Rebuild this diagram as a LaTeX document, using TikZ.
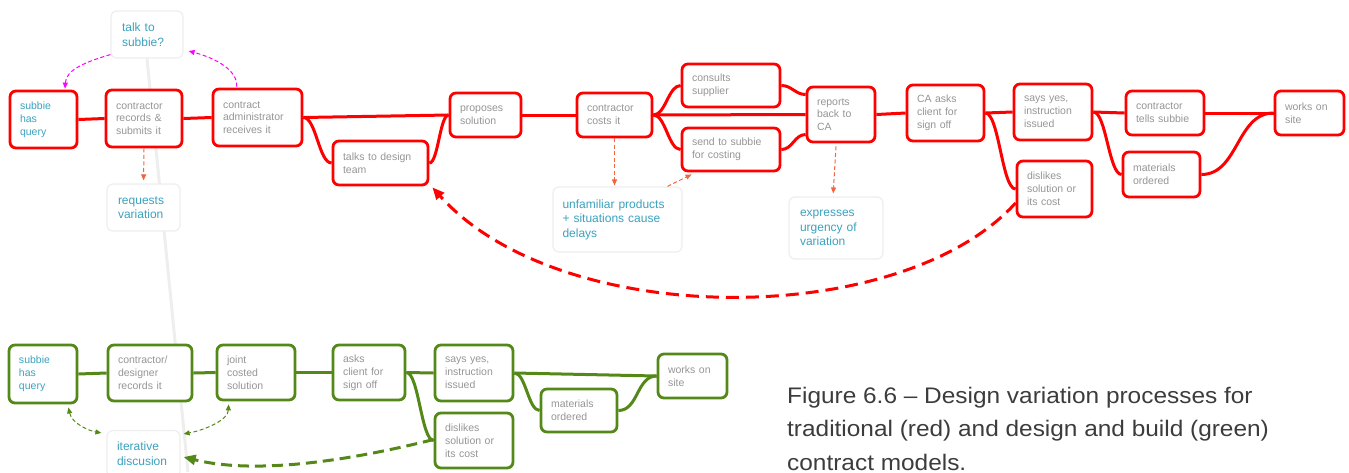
\documentclass[tikz,border=0pt]{standalone}
\usepackage{fontspec}
\setmainfont{Liberation Sans}
\newfontfamily\capfont[FakeStretch=1.085]{Liberation Sans}
\usetikzlibrary{arrows.meta,calc,backgrounds}
\definecolor{rd}{RGB}{255,0,0}
\definecolor{gr}{RGB}{84,136,24}
\definecolor{tl}{RGB}{60,162,190}
\definecolor{tx}{RGB}{150,150,150}
\definecolor{og}{RGB}{242,100,60}
\definecolor{mg}{RGB}{255,0,255}
\definecolor{capc}{RGB}{60,60,60}
\definecolor{faint}{RGB}{238,238,238}
\tikzset{
  box/.style={rounded corners=6pt, line width=2.8pt, fill=white, inner xsep=10pt, inner ysep=3pt,
    align=left, text=tx, font=\fontsize{10.5}{12.8}\selectfont},
  rbox/.style={box, draw=rd},
  gbox/.style={box, draw=gr},
  note/.style={rounded corners=6pt, draw=faint, line width=1.2pt, fill=white, inner xsep=11pt,
    align=left, text=tl, font=\fontsize{12}{14.6}\selectfont},
  rl/.style={draw=rd, line width=3pt},
  gl/.style={draw=gr, line width=3pt},
  sc/.style={to path={.. controls ($(\tikztostart)!0.45!(\tikztostart -| \tikztotarget)$) and ($(\tikztotarget)!0.45!(\tikztotarget -| \tikztostart)$) .. (\tikztotarget)}},
  thin/.style={line width=1pt, dash pattern=on 4pt off 2.5pt},
  ol/.style={thin, draw=og, -{Triangle[length=6pt,width=5pt]}},
  ml/.style={thin, draw=mg, -{Triangle[length=6pt,width=5pt]}},
  gdl/.style={thin, draw=gr, {Triangle[length=6pt,width=5pt]}-{Triangle[length=6pt,width=5pt]}},
  bigtip/.style={-{Triangle[length=12pt,width=10pt]}}
}
\begin{document}
\begin{tikzpicture}[x=1pt,y=-1pt]
\useasboundingbox (0,0) rectangle (1349,472);
% notes
\node[note, text width=50pt, minimum height=47pt] (n1) at (147,34.5) {talk to\\subbie?};
\node[note, text width=51pt, minimum height=47pt] (n2) at (143.5,207.5) {requests\\variation};
\node[note, inner xsep=9.5pt, text width=110pt, minimum height=65pt] (n3) at (617.5,219.5) {unfamiliar products\\+ situations cause\\delays};
\node[note, text width=72pt, minimum height=62pt] (n4) at (836,228) {expresses\\urgency of\\variation};
\node[note, inner xsep=10pt, text width=53pt, minimum height=47pt] (n5) at (143.5,454) {iterative\\discusion};
% red boxes
\node[rbox, text=tl, text width=47pt, minimum height=57pt] (r1) at (43.5,119.5) {subbie\\has\\query};
\node[rbox, text width=56pt, minimum height=57pt] (r2) at (144,118.5) {contractor\\records \&\\submits it};
\node[rbox, text width=69pt, minimum height=57pt] (r3) at (257.5,117.5) {contract\\administrator\\receives it};
\node[rbox, text width=75pt, minimum height=44pt] (r4) at (380.5,163) {talks to design\\team};
\node[rbox, text width=51pt, minimum height=44pt] (r5) at (485.5,115) {proposes\\solution};
\node[rbox, text width=55pt, minimum height=44pt] (r6) at (614.5,115) {contractor\\costs it};
\node[rbox, text width=78pt, minimum height=43pt] (r7) at (731,85.5) {consults\\supplier};
\node[rbox, text width=78pt, minimum height=43pt] (r8) at (731,149.5) {send to subbie\\for costing};
\node[rbox, text width=48pt, minimum height=55pt] (r9) at (841,114.5) {reports\\back to\\CA};
\node[rbox, text width=57pt, minimum height=56pt] (r10) at (945.5,113) {CA asks\\client for\\sign off};
\node[rbox, text width=58pt, minimum height=56pt] (r11) at (1053,112) {says yes,\\instruction\\issued};
\node[rbox, text width=58pt, minimum height=44pt] (r12) at (1165,113) {contractor\\tells subbie};
\node[rbox, text width=55pt, minimum height=56pt] (r13) at (1054.5,189) {dislikes\\solution or\\its cost};
\node[rbox, text width=57pt, minimum height=45pt] (r14) at (1161.5,174.5) {materials\\ordered};
\node[rbox, text width=49pt, minimum height=44pt] (r15) at (1309.5,113) {works on\\site};
% green boxes
\node[gbox, text=tl, text width=48pt, minimum height=58pt] (g1) at (43,374) {subbie\\has\\query};
\node[gbox, text width=64pt, minimum height=56pt] (g2) at (150,373) {contractor/\\designer\\records it};
\node[gbox, text width=58pt, minimum height=55pt] (g3) at (256,372.5) {joint\\costed\\solution};
\node[gbox, text width=52pt, minimum height=55pt] (g4) at (369,372.5) {asks\\client for\\sign off};
\node[gbox, text width=58pt, minimum height=56pt] (g5) at (474,373) {says yes,\\instruction\\issued};
\node[gbox, text width=58pt, minimum height=55pt] (g6) at (474,440.5) {dislikes\\solution or\\its cost};
\node[gbox, text width=56pt, minimum height=43pt] (g7) at (579,410.5) {materials\\ordered};
\node[gbox, text width=49pt, minimum height=44pt] (g8) at (692.5,376) {works on\\site};
% caption (base anchor = last line baseline)
\node[anchor=base west, align=left, inner sep=0pt, text=capc,
  font=\capfont\fontsize{22.5}{33.4}\selectfont] (cap) at (787,470.1)
  {Figure 6.6 – Design variation processes for\\traditional (red) and design and build (green)\\contract models.};
\coordinate (gend) at (188,472);
\begin{pgfonlayer}{background}
\draw[faint, line width=3pt] (n1.south) -- (gend);
% red connectors
\draw[rl] (r1.east) -- (r2.west);
\draw[rl] (r2.east) -- (r3.west);
\draw[rl] (r3.east) -- (r5.west);
\draw[rl] (r3.east) to[sc] (r4.west);
\draw[rl] (r4.east) to[sc] (r5.west);
\draw[rl] (r5.east) -- (r6.west);
\draw[rl] (r6.east) -- (r9.west);
\draw[rl] (r6.east) to[sc] (r7.west);
\draw[rl] (r6.east) to[sc] (r8.west);
\draw[rl] (r7.east) to[out=0,in=180] ($(r9.west)+(0,-20)$);
\draw[rl] (r8.east) to[out=0,in=180] ($(r9.west)+(0,20)$);
\draw[rl] (r9.east) -- (r10.west);
\draw[rl] (r10.east) -- (r11.west);
\draw[rl] (r10.east) to[sc] (r13.west);
\draw[rl] (r11.east) -- (r12.west);
\draw[rl] (r11.east) to[sc] (r14.west);
\draw[rl] (r12.east) -- (r15.west);
\draw[rl] (r14.east) to[out=0,in=180] (r15.west);
% green connectors
\draw[gl] (g1.east) -- (g2.west);
\draw[gl] (g2.east) -- (g3.west);
\draw[gl] (g3.east) -- (g4.west);
\draw[gl] (g4.east) -- (g5.west);
\draw[gl] (g4.east) to[sc] (g6.west);
\draw[gl] (g5.east) -- (g8.west);
\draw[gl] (g5.east) to[sc] (g7.west);
\draw[gl] (g7.east) to[out=0,in=180] (g8.west);
\end{pgfonlayer}
% dashed arrows
\draw[rl, dash pattern=on 13pt off 7pt, bigtip] ($(r13.west)+(0,14)$) .. controls (900,330) and (560,330) .. ($(r4.south east)+(3,1)$);
\draw[gl, dash pattern=on 11pt off 6pt, bigtip] ($(g6.west)+(0,-1)$) .. controls (360,458) and (260,476) .. ($(n5.east)+(3,3)$);
\draw[ol, shorten >=3pt] (r2.south) -- (n2.north);
\draw[ol, shorten >=1pt] (r6.south) -- (r6.south |- n3.north);
\draw[ol] ($(n3.north)+(50,0)$) -- ($(r8.south west)+(11,2)$);
\draw[ol, shorten >=3pt] ($(r9.south)+(-5,3)$) -- ($(n4.north)+(-3,0)$);
\draw[ml] ($(n1.south west)+(0,-4)$) .. controls (85,62) and (66,70) .. ($(r1.north)+(21.5,-1)$);
\draw[ml] ($(r3.north west)+(25,-1)$) .. controls (238,70) and (215,58) .. ($(n1.east)+(5,16.5)$);
\draw[gdl] ($(g1.south east)+(-10,3)$) .. controls (72,424) and (90,431) .. ($(n5.north west)+(-5,3)$);
\draw[gdl] ($(g3.south west)+(13,3)$) .. controls (228,420) and (205,430) .. ($(n5.north east)+(3,4)$);
\end{tikzpicture}
\end{document}
